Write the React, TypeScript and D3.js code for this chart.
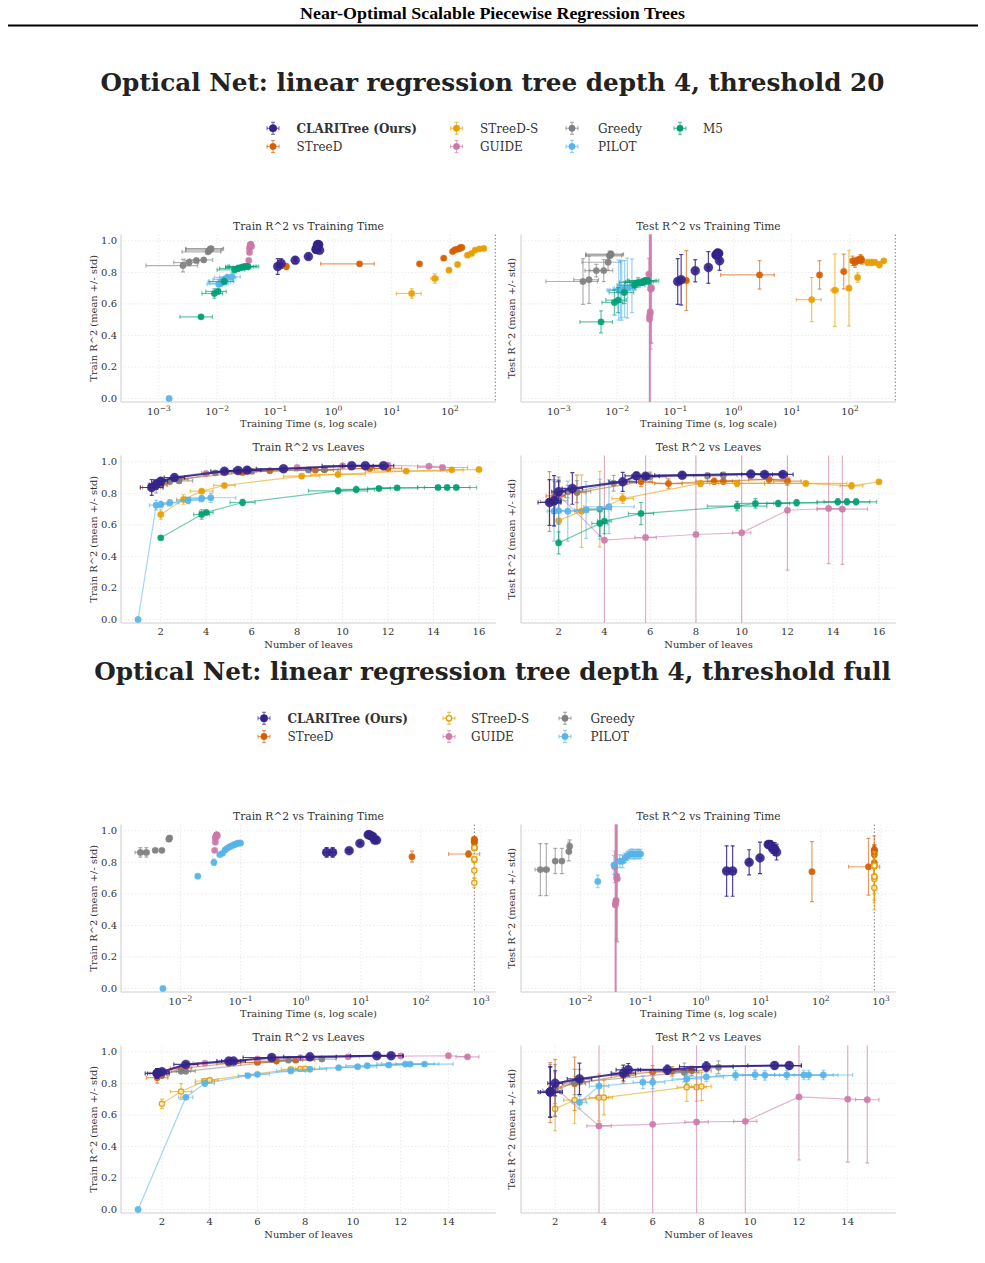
import React from "react";
import * as d3 from "d3";

const FONT = "'DejaVu Serif', serif";

const NAVY = "#332288";
const ORANGE = "#D55E00";
const AMBER = "#E69F00";
const PINK = "#CC79A7";
const GRAY = "#7f7f7f";
const SKY = "#56B4E9";
const GREEN = "#009E73";

// row layout: [time, timeStd, leaves, leavesStd, train, trainStd, test, testStd]
type Row = number[];

// ---- threshold 20 ----
const clari20: Row[] = [
  [0.110, 0.006, 1.6, 0.5, 0.837, 0.05, 0.742, 0.145],
  [0.126, 0.007, 1.8, 0.3, 0.856, 0.03, 0.753, 0.16],
  [0.220, 0.010, 2.0, 0.3, 0.877, 0.02, 0.810, 0.07],
  [0.370, 0.020, 2.6, 0.45, 0.900, 0.015, 0.831, 0.10],
  [0.575, 0.030, 4.8, 0.6, 0.940, 0.01, 0.873, 0.06],
  [0.500, 0.020, 5.4, 0.5, 0.945, 0.008, 0.911, 0.02],
  [0.510, 0.020, 5.8, 0.6, 0.947, 0.008, 0.909, 0.015],
  [0.520, 0.020, 7.4, 1.2, 0.956, 0.008, 0.915, 0.015],
  [0.530, 0.020, 10.4, 1.3, 0.975, 0.006, 0.922, 0.015],
  [0.545, 0.020, 11.0, 1.0, 0.975, 0.006, 0.920, 0.015],
  [0.555, 0.020, 11.8, 0.45, 0.975, 0.006, 0.920, 0.015],
];
const streed20: Row[] = [
  [0.155, 0.01, 1.6, 0.4, 0.837, 0.02, 0.748, 0.19],
  [2.8, 2.2, 1.85, 0.4, 0.854, 0.01, 0.784, 0.09],
  [30, 1.5, 2.0, 0.3, 0.854, 0.01, 0.784, 0.09],
  [78, 4, 2.8, 0.4, 0.890, 0.01, 0.805, 0.11],
  [111, 6, 5.6, 0.5, 0.932, 0.01, 0.873, 0.03],
  [122, 6, 6.8, 0.6, 0.943, 0.01, 0.862, 0.03],
  [135, 7, 8.8, 0.8, 0.947, 0.01, 0.877, 0.02],
  [145, 7, 9.2, 0.7, 0.950, 0.01, 0.877, 0.02],
  [152, 8, 11.2, 0.9, 0.958, 0.01, 0.888, 0.025],
  [160, 8, 12.0, 0.6, 0.958, 0.01, 0.877, 0.025],
];
const streedS20: Row[] = [
  [22, 10, 2.0, 0, 0.666, 0.03, 0.627, 0.14],
  [55, 8, 3.0, 0.3, 0.761, 0.03, 0.687, 0.23],
  [96, 5, 3.8, 0.5, 0.814, 0.01, 0.700, 0.24],
  [135, 8, 4.8, 0.47, 0.850, 0.01, 0.767, 0.03],
  [200, 15, 8.2, 0.8, 0.909, 0.01, 0.863, 0.02],
  [235, 15, 9.8, 1.2, 0.920, 0.01, 0.863, 0.02],
  [270, 15, 12.8, 1.8, 0.941, 0.01, 0.863, 0.015],
  [320, 20, 14.8, 0.5, 0.949, 0.01, 0.848, 0.02],
  [380, 20, 16.0, 0, 0.951, 0.01, 0.873, 0.01],
];
const guide20: Row[] = [
  [0.035, 0.002, 2.0, 0, 0.875, 0.01, 0.789, 0.1],
  [0.036, 0.002, 4.0, 0, 0.926, 0.01, 0.503, 1.5],
  [0.036, 0.002, 5.8, 0.47, 0.953, 0.01, 0.520, 1.5],
  [0.037, 0.002, 8.0, 0, 0.964, 0.01, 0.539, 1.5],
  [0.037, 0.002, 10.0, 0.4, 0.975, 0.01, 0.550, 1.5],
  [0.038, 0.002, 12.0, 0, 0.978, 0.01, 0.693, 0.38],
  [0.038, 0.002, 13.8, 0.5, 0.972, 0.01, 0.704, 0.35],
  [0.039, 0.002, 14.4, 1.1, 0.964, 0.01, 0.700, 0.35],
];
const greedy20: Row[] = [
  [0.0026, 0.0020, 1.8, 0.3, 0.843, 0.04, 0.742, 0.145],
  [0.0033, 0.0015, 2.0, 0.4, 0.862, 0.02, 0.753, 0.15],
  [0.0044, 0.0016, 2.4, 0.5, 0.875, 0.01, 0.811, 0.04],
  [0.0059, 0.0025, 2.8, 0.6, 0.879, 0.01, 0.811, 0.07],
  [0.0070, 0.0045, 4.4, 0.6, 0.930, 0.01, 0.864, 0.05],
  [0.0074, 0.0045, 6.0, 0.7, 0.940, 0.01, 0.905, 0.03],
  [0.0077, 0.0048, 8.5, 0.6, 0.948, 0.01, 0.911, 0.02],
  [0.0079, 0.0050, 9.2, 0.6, 0.950, 0.01, 0.915, 0.02],
];
const pilot20: Row[] = [
  [0.0015, 0.0001, 1.0, 0, 0.000, 0, NaN, 0],
  [0.0107, 0.004, 1.8, 0.3, 0.725, 0.03, 0.687, 0.19],
  [0.0115, 0.004, 2.0, 0.3, 0.730, 0.02, 0.690, 0.18],
  [0.0120, 0.005, 2.4, 0.4, 0.740, 0.02, 0.687, 0.19],
  [0.0135, 0.005, 3.2, 0.5, 0.755, 0.02, 0.695, 0.18],
  [0.0150, 0.006, 3.8, 0.5, 0.767, 0.02, 0.700, 0.19],
  [0.0180, 0.007, 4.2, 1.1, 0.772, 0.03, 0.715, 0.17],
];
const m520: Row[] = [
  [0.0053, 0.003, 2.0, 0, 0.518, 0.01, 0.486, 0.07],
  [0.0090, 0.0035, 3.8, 0.35, 0.666, 0.03, 0.609, 0.08],
  [0.0104, 0.004, 4.0, 0.3, 0.679, 0.01, 0.624, 0.08],
  [0.0133, 0.006, 5.6, 0.55, 0.742, 0.02, 0.672, 0.07],
  [0.020, 0.010, 9.8, 1.3, 0.816, 0.02, 0.719, 0.03],
  [0.023, 0.012, 10.6, 0.8, 0.825, 0.02, 0.736, 0.03],
  [0.026, 0.012, 11.6, 0.5, 0.831, 0.01, 0.736, 0.02],
  [0.028, 0.014, 12.4, 0.9, 0.835, 0.01, 0.740, 0.02],
  [0.030, 0.015, 14.2, 0.9, 0.837, 0.01, 0.746, 0.02],
  [0.032, 0.016, 14.6, 1.0, 0.837, 0.01, 0.746, 0.02],
  [0.034, 0.018, 15.0, 0.9, 0.837, 0.01, 0.746, 0.02],
];

// ---- threshold full ----
const clariFull: Row[] = [
  [2.7, 0.3, 1.8, 0.5, 0.863, 0.03, 0.745, 0.16],
  [3.4, 0.4, 1.8, 0.4, 0.863, 0.03, 0.745, 0.16],
  [6.4, 0.5, 2.0, 0.3, 0.874, 0.01, 0.800, 0.08],
  [9.7, 0.6, 3.0, 0.5, 0.920, 0.01, 0.828, 0.10],
  [18.3, 1.0, 4.8, 0.5, 0.941, 0.01, 0.865, 0.05],
  [17.0, 1.0, 5.0, 0.5, 0.941, 0.01, 0.886, 0.04],
  [15.8, 1.0, 6.6, 1.2, 0.964, 0.01, 0.886, 0.03],
  [14.8, 1.0, 8.2, 1.1, 0.968, 0.01, 0.907, 0.03],
  [13.9, 1.0, 11.0, 1.1, 0.975, 0.01, 0.913, 0.02],
  [13.3, 1.0, 11.6, 0.5, 0.975, 0.01, 0.913, 0.02],
];
const streedFull: Row[] = [
  [71, 3, 1.8, 0.45, 0.836, 0.035, 0.741, 0.19],
  [620, 330, 2.0, 0.25, 0.853, 0.02, 0.772, 0.18],
  [775, 0, 2.8, 0.45, 0.895, 0.015, 0.797, 0.17],
  [775, 0, 4.8, 0.5, 0.926, 0.01, 0.850, 0.05],
  [775, 0, 6.0, 0.8, 0.933, 0.01, 0.872, 0.04],
  [775, 0, 6.8, 0.9, 0.941, 0.01, 0.876, 0.03],
  [775, 0, 7.6, 0.8, 0.947, 0.01, 0.880, 0.03],
];
const streedSFull: Row[] = [
  [775, 0, 2.0, 0, 0.670, 0.03, 0.638, 0.14],
  [775, 0, 2.8, 0.45, 0.748, 0.05, 0.694, 0.15],
  [775, 0, 3.8, 0.4, 0.815, 0.01, 0.710, 0.15],
  [775, 0, 4.0, 0.35, 0.821, 0.01, 0.710, 0.11],
  [775, 0, 7.4, 0.4, 0.889, 0.01, 0.776, 0.09],
  [775, 0, 7.8, 0.4, 0.891, 0.01, 0.776, 0.09],
  [775, 0, 8.0, 0.4, 0.893, 0.01, 0.780, 0.09],
];
const guideFull: Row[] = [
  [0.037, 0.001, 2.0, 0, 0.876, 0.01, 0.772, 0.1],
  [0.038, 0.001, 3.8, 0.5, 0.928, 0.01, 0.530, 1.5],
  [0.038, 0.001, 6.0, 0, 0.954, 0.01, 0.540, 1.5],
  [0.039, 0.001, 7.8, 0.48, 0.962, 0.01, 0.555, 1.5],
  [0.039, 0.001, 9.8, 0.48, 0.968, 0.01, 0.559, 1.5],
  [0.040, 0.001, 12.0, 0, 0.973, 0.01, 0.714, 0.4],
  [0.040, 0.001, 14.0, 0, 0.975, 0.01, 0.700, 0.4],
  [0.041, 0.001, 14.8, 0.48, 0.968, 0.01, 0.696, 0.4],
];
const greedyFull: Row[] = [
  [0.00215, 0.0004, 1.8, 0.3, 0.863, 0.03, 0.754, 0.165],
  [0.0027, 0.0003, 2.0, 0.3, 0.863, 0.03, 0.754, 0.165],
  [0.0038, 0.0002, 2.8, 0.4, 0.876, 0.01, 0.808, 0.08],
  [0.0049, 0.0002, 3.0, 0.4, 0.876, 0.01, 0.808, 0.08],
  [0.0064, 0.0002, 7.3, 0.6, 0.947, 0.01, 0.869, 0.06],
  [0.0066, 0.0002, 8.7, 0.6, 0.954, 0.01, 0.902, 0.04],
];
const pilotFull: Row[] = [
  [0.0051, 0.0002, 1.0, 0, 0.000, 0, NaN, 0],
  [0.0194, 0.001, 3.0, 0.3, 0.712, 0.005, 0.679, 0.04],
  [0.036, 0.002, 3.8, 0.4, 0.800, 0.02, 0.783, 0.06],
  [0.045, 0.003, 5.6, 0.4, 0.849, 0.01, 0.807, 0.04],
  [0.050, 0.003, 6.0, 0.5, 0.857, 0.01, 0.807, 0.04],
  [0.055, 0.003, 7.4, 0.6, 0.878, 0.01, 0.828, 0.03],
  [0.060, 0.004, 8.2, 0.7, 0.889, 0.01, 0.841, 0.03],
  [0.066, 0.004, 9.4, 0.8, 0.899, 0.01, 0.851, 0.03],
  [0.072, 0.004, 10.2, 0.8, 0.905, 0.01, 0.855, 0.03],
  [0.078, 0.005, 10.6, 0.9, 0.912, 0.01, 0.851, 0.03],
  [0.084, 0.005, 11.5, 0.9, 0.916, 0.01, 0.853, 0.03],
  [0.090, 0.005, 12.2, 1.2, 0.922, 0.01, 0.853, 0.03],
  [0.095, 0.006, 12.4, 1.2, 0.922, 0.01, 0.853, 0.03],
  [0.100, 0.006, 13.0, 1.2, 0.922, 0.01, 0.853, 0.03],
];

interface Series {
  name: string;
  color: string;
  rows: Row[];
  main?: boolean;
  hollow?: boolean;
}

// legend order
const series20: Series[] = [
  { name: "CLARITree (Ours)", color: NAVY, rows: clari20, main: true },
  { name: "STreeD", color: ORANGE, rows: streed20 },
  { name: "STreeD-S", color: AMBER, rows: streedS20 },
  { name: "GUIDE", color: PINK, rows: guide20 },
  { name: "Greedy", color: GRAY, rows: greedy20 },
  { name: "PILOT", color: SKY, rows: pilot20 },
  { name: "M5", color: GREEN, rows: m520 },
];
const seriesFull: Series[] = [
  { name: "CLARITree (Ours)", color: NAVY, rows: clariFull, main: true },
  { name: "STreeD", color: ORANGE, rows: streedFull },
  { name: "STreeD-S", color: AMBER, rows: streedSFull, hollow: true },
  { name: "GUIDE", color: PINK, rows: guideFull },
  { name: "Greedy", color: GRAY, rows: greedyFull },
  { name: "PILOT", color: SKY, rows: pilotFull },
];

const R2_TICKS = [0, 0.2, 0.4, 0.6, 0.8, 1.0];
const Y_DOMAIN = [-0.022, 1.04];
const PW = 375;
const PH = 167.5;
const COLS = [121, 521];
const ROWS = [234.5, 455.5, 824.5, 1045.5];

interface PanelProps {
  id: string;
  x0: number;
  y0: number;
  series: Series[];
  kind: "time" | "leaves";
  metric: "train" | "test";
  timeDomain?: number[];
  timeLimit?: number;
}

function supText(k: number) {
  return k < 0 ? "\u2212" + Math.abs(k) : String(k);
}

function Panel({ id, x0, y0, series, kind, metric, timeDomain, timeLimit }: PanelProps) {
  const xi = kind === "time" ? 0 : 2;
  const yi = metric === "train" ? 4 : 6;
  const y = d3.scaleLinear().domain(Y_DOMAIN).range([y0 + PH, y0]);

  let x: any;
  let xTicks: number[];
  if (kind === "time") {
    x = d3.scaleLog().domain(timeDomain as number[]).range([x0, x0 + PW]);
    const lo = Math.ceil(Math.log10(timeDomain![0]));
    const hi = Math.floor(Math.log10(timeDomain![1]));
    xTicks = d3.range(lo, hi + 1);
  } else {
    const vals = series.flatMap((s) =>
      s.rows.filter((r) => Number.isFinite(r[yi])).flatMap((r) => [r[2] - r[3], r[2] + r[3]])
    );
    const [lo, hi] = d3.extent(vals) as [number, number];
    const m = (hi - lo) * 0.05;
    x = d3.scaleLinear().domain([lo - m, hi + m]).range([x0, x0 + PW]);
    xTicks = d3.range(2, hi + m, 2);
  }
  const xPos = (t: number) => (kind === "time" ? x(Math.pow(10, t)) : x(t));
  const xClamp = (v: number) => (kind === "time" && v <= 0 ? x0 - 50 : x(v));

  const title = `${metric === "train" ? "Train" : "Test"} R^2 vs ${kind === "time" ? "Training Time" : "Leaves"}`;
  const xLabel = kind === "time" ? "Training Time (s, log scale)" : "Number of leaves";
  const yLabel = `${metric === "train" ? "Train" : "Test"} R^2 (mean +/- std)`;
  const showY = metric === "train";
  const cap = 2;

  const drawOrder = [...series.filter((s) => !s.main), ...series.filter((s) => s.main)];

  return (
    <g>
      <defs>
        <clipPath id={id}>
          <rect x={x0} y={y0} width={PW} height={PH} />
        </clipPath>
      </defs>
      {/* grid */}
      {R2_TICKS.map((t) => (
        <line key={"gy" + t} x1={x0} x2={x0 + PW} y1={y(t)} y2={y(t)} stroke="#e4e4e4" strokeWidth={0.8} strokeDasharray="1.5,2" />
      ))}
      {xTicks.map((t) => (
        <line key={"gx" + t} x1={xPos(t)} x2={xPos(t)} y1={y0} y2={y0 + PH} stroke="#e4e4e4" strokeWidth={0.8} strokeDasharray="1.5,2" />
      ))}
      {/* spines */}
      <line x1={x0} x2={x0} y1={y0} y2={y0 + PH} stroke="#cfcfcf" strokeWidth={1.1} />
      <line x1={x0} x2={x0 + PW} y1={y0 + PH} y2={y0 + PH} stroke="#cfcfcf" strokeWidth={1.1} />
      {kind === "time" && timeLimit && (
        <line x1={x(timeLimit)} x2={x(timeLimit)} y1={y0} y2={y0 + PH} stroke="#8c8c8c" strokeWidth={1.1} strokeDasharray="1.5,2" />
      )}
      {/* data */}
      <g clipPath={`url(#${id})`}>
        {drawOrder.map((s) => {
          const pts = s.rows
            .filter((r) => Number.isFinite(r[yi]))
            .map((r) => ({ x: r[xi], xs: r[xi + 1], y: r[yi], ys: r[yi + 1] }));
          const lw = s.main ? 2 : 1.2;
          const rad = s.main ? 4.5 : 3.2;
          let path: string | null = null;
          if (kind === "leaves") {
            const sorted = [...pts].sort((a, b) => a.x - b.x);
            path = d3
              .line<any>()
              .x((d) => x(d.x))
              .y((d) => y(d.y))(sorted);
          }
          return (
            <g key={s.name}>
              {path && (
                <path d={path} fill="none" stroke={s.color} strokeWidth={lw} strokeOpacity={s.main ? 0.9 : 0.55} />
              )}
              <g stroke={s.color} strokeWidth={1.2} strokeOpacity={s.main ? 0.85 : 0.6} fill="none">
                {pts.map((p, i) => {
                  const cx = x(p.x);
                  const cy = y(p.y);
                  const xl = xClamp(p.x - p.xs);
                  const xr = x(p.x + p.xs);
                  const yt = y(p.y + p.ys);
                  const yb = y(p.y - p.ys);
                  return (
                    <g key={i}>
                      {p.xs > 0 && (
                        <>
                          <line x1={xl} x2={xr} y1={cy} y2={cy} />
                          <line x1={xl} x2={xl} y1={cy - cap} y2={cy + cap} />
                          <line x1={xr} x2={xr} y1={cy - cap} y2={cy + cap} />
                        </>
                      )}
                      {p.ys > 0 && (
                        <>
                          <line x1={cx} x2={cx} y1={yt} y2={yb} />
                          <line x1={cx - cap} x2={cx + cap} y1={yt} y2={yt} />
                          <line x1={cx - cap} x2={cx + cap} y1={yb} y2={yb} />
                        </>
                      )}
                    </g>
                  );
                })}
              </g>
              {pts.map((p, i) => (
                <circle
                  key={"m" + i}
                  cx={x(p.x)}
                  cy={y(p.y)}
                  r={s.hollow ? rad - 0.6 : rad}
                  fill={s.hollow ? "#fff" : s.color}
                  fillOpacity={s.hollow ? 0.6 : 0.9}
                  stroke={s.color}
                  strokeWidth={s.hollow ? 1.4 : 0.4}
                  strokeOpacity={0.9}
                />
              ))}
            </g>
          );
        })}
      </g>
      {/* tick labels */}
      {showY &&
        R2_TICKS.map((t) => (
          <text key={"yl" + t} x={x0 - 4} y={y(t)} dy="0.35em" textAnchor="end" fontSize={10} fill="#333">
            {t.toFixed(1)}
          </text>
        ))}
      {xTicks.map((t) =>
        kind === "time" ? (
          <text key={"xl" + t} x={xPos(t)} y={y0 + PH + 12.5} textAnchor="middle" fontSize={10} fill="#333">
            10
            <tspan dy={-4} fontSize={7.5}>
              {supText(t)}
            </tspan>
          </text>
        ) : (
          <text key={"xl" + t} x={xPos(t)} y={y0 + PH + 11.5} textAnchor="middle" fontSize={10} fill="#333">
            {t}
          </text>
        )
      )}
      <text x={x0 + PW / 2} y={y0 - 5} textAnchor="middle" fontSize={10.7} fill="#333">
        {title}
      </text>
      <text x={x0 + PW / 2} y={y0 + PH + 24.5} textAnchor="middle" fontSize={9.9} fill="#333">
        {xLabel}
      </text>
      <text
        transform={`translate(${showY ? x0 - 24 : x0 - 6},${y0 + PH / 2}) rotate(-90)`}
        textAnchor="middle"
        fontSize={9.9}
        fill="#333"
      >
        {yLabel}
      </text>
    </g>
  );
}

function Legend({ series, rowsY, markX, textX }: { series: Series[]; rowsY: number[]; markX: number[]; textX: number[] }) {
  return (
    <g>
      {series.map((s, i) => {
        const col = Math.floor(i / 2);
        const row = i % 2;
        const mx = markX[col];
        const my = rowsY[row];
        const h = 6;
        const c = 2;
        return (
          <g key={s.name}>
            <g stroke={s.color} strokeWidth={1.2} strokeOpacity={0.6}>
              <line x1={mx - h} x2={mx + h} y1={my} y2={my} />
              <line x1={mx - h} x2={mx - h} y1={my - c} y2={my + c} />
              <line x1={mx + h} x2={mx + h} y1={my - c} y2={my + c} />
              <line x1={mx} x2={mx} y1={my - h} y2={my + h} />
              <line x1={mx - c} x2={mx + c} y1={my - h} y2={my - h} />
              <line x1={mx - c} x2={mx + c} y1={my + h} y2={my + h} />
            </g>
            <circle
              cx={mx}
              cy={my}
              r={s.main ? 3.8 : s.hollow ? 2.7 : 3.2}
              fill={s.hollow ? "#fff" : s.color}
              stroke={s.color}
              strokeWidth={s.hollow ? 1.4 : 0.4}
            />
            <text
              x={textX[col]}
              y={my}
              dy="0.35em"
              fontSize={12}
              fontWeight={s.main ? "bold" : "normal"}
              fill="#333"
            >
              {s.name}
            </text>
          </g>
        );
      })}
    </g>
  );
}

export default function App() {
  const dom20 = [Math.pow(10, -3.65), Math.pow(10, 2.79)];
  const domFull = [Math.pow(10, -2.99), Math.pow(10, 3.25)];
  return (
    <svg
      width={985}
      height={1263}
      style={{ position: "absolute", left: 0, top: 0, background: "#fff" }}
      fontFamily={FONT}
    >
      <rect width={985} height={1263} fill="#fff" />
      <text
        x={492.5}
        y={19}
        textAnchor="middle"
        fontFamily="'Liberation Serif', serif"
        fontWeight="bold"
        fontSize={17}
        textLength={385}
        lengthAdjust="spacingAndGlyphs"
        fill="#000"
      >
        Near-Optimal Scalable Piecewise Regression Trees
      </text>
      <line x1={8} x2={978} y1={25.5} y2={25.5} stroke="#000" strokeWidth={2} />

      <text x={492.5} y={90.5} textAnchor="middle" fontSize={24.7} fontWeight="bold" fill="#222">
        Optical Net: linear regression tree depth 4, threshold 20
      </text>
      <Legend series={series20} rowsY={[128.3, 146.5]} markX={[273, 456.5, 572, 680]} textX={[296.5, 480, 598, 703]} />

      <Panel id="p1" x0={COLS[0]} y0={ROWS[0]} series={series20} kind="time" metric="train" timeDomain={dom20} timeLimit={600} />
      <Panel id="p2" x0={COLS[1]} y0={ROWS[0]} series={series20} kind="time" metric="test" timeDomain={dom20} timeLimit={600} />
      <Panel id="p3" x0={COLS[0]} y0={ROWS[1]} series={series20} kind="leaves" metric="train" />
      <Panel id="p4" x0={COLS[1]} y0={ROWS[1]} series={series20} kind="leaves" metric="test" />

      <text x={492.5} y={679.5} textAnchor="middle" fontSize={24.7} fontWeight="bold" fill="#222">
        Optical Net: linear regression tree depth 4, threshold full
      </text>
      <Legend series={seriesFull} rowsY={[718.3, 736.5]} markX={[264, 449, 565, 671.5]} textX={[287.5, 471, 590.5, 695]} />

      <Panel id="p5" x0={COLS[0]} y0={ROWS[2]} series={seriesFull} kind="time" metric="train" timeDomain={domFull} timeLimit={775} />
      <Panel id="p6" x0={COLS[1]} y0={ROWS[2]} series={seriesFull} kind="time" metric="test" timeDomain={domFull} timeLimit={775} />
      <Panel id="p7" x0={COLS[0]} y0={ROWS[3]} series={seriesFull} kind="leaves" metric="train" />
      <Panel id="p8" x0={COLS[1]} y0={ROWS[3]} series={seriesFull} kind="leaves" metric="test" />
    </svg>
  );
}
